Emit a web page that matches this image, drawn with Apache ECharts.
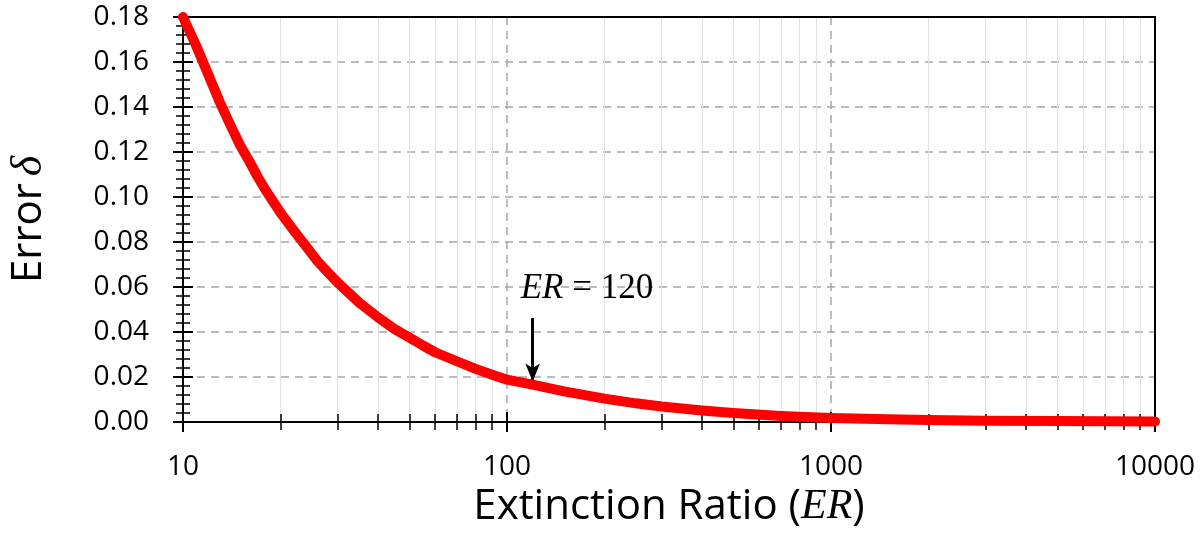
<!DOCTYPE html>
<html>
<head>
<meta charset="utf-8">
<script src="https://cdn.jsdelivr.net/npm/echarts@6/dist/echarts.min.js"></script>
<style>
  html, body { margin: 0; padding: 0; background: #fff; }
  #main { width: 1200px; height: 546px; }
</style>
</head>
<body>
<div id="main"></div>
<script>
// values
var erValues = [10, 11, 12, 13, 14, 15, 16, 17, 18, 20, 22, 24, 26, 28, 30, 35, 40, 45, 50, 55, 60, 70, 80, 90,
                100, 120, 150, 200, 250, 300, 400, 500, 700, 1000, 1500, 2000, 3000, 5000, 7000, 10000];
var errorValues = [0.180, 0.167, 0.154, 0.142, 0.132, 0.123, 0.116, 0.109, 0.103, 0.093, 0.085, 0.078,
                   0.0715, 0.0665, 0.062, 0.053, 0.0465, 0.0413, 0.0375, 0.0340, 0.0310, 0.0270, 0.0236,
                   0.0210, 0.0188, 0.0166, 0.0136, 0.0104, 0.0083, 0.0069, 0.0051, 0.0040, 0.0027,
                   0.0018, 0.0012, 0.0009, 0.0006, 0.0004, 0.0003, 0.0002];

// annotation: arrow pointing at ER = 120
var annotER = 120;
var arrowFrom = 0.0462;
var arrowTo = 0.0180;
var annotText = ' = 120';

var xMin = 10, xMax = 10000;
var yMin = 0, yMax = 0.18, yStep = 0.02;
var xMajorGrid = [100, 1000];   // dashed verticals (edges are the frame)
var yMajorGrid = [0.02, 0.04, 0.06, 0.08, 0.10, 0.12, 0.14, 0.16];

// minor tick positions (2..9 of every decade, and fifths of the y step)
var minorX = [];
for (var d = 10; d < xMax; d *= 10) {
    for (var k = 2; k <= 9; k++) minorX.push(k * d);
}
var minorY = [];
for (var i = 0; i < 45; i++) {
    if (i % 5 !== 0) minorY.push(+(i * 0.004).toFixed(3));
}

var sans = 'Open Sans';
var serif = 'Liberation Serif';

var points = [];
for (var j = 0; j < erValues.length; j++) points.push([erValues[j], errorValues[j]]);

var gridRect = {left: 183, right: 45, top: 17, bottom: 124, containLabel: false, outerBoundsMode: 'none'};

function blankAxis(extra) {
    var a = {
        axisLine: {show: false},
        axisLabel: {show: false},
        splitLine: {show: false},
        axisTick: {show: false}
    };
    for (var key in extra) a[key] = extra[key];
    return a;
}

var frameLine = {show: true, lineStyle: {color: '#000', width: 2}};
var dashed = {show: true, lineStyle: {color: '#a6a6a6', type: [8, 6], width: 1.5}};

var chart = echarts.init(document.getElementById('main'));

var option = {
    animation: false,
    grid: [
        Object.assign({}, gridRect),
        Object.assign({}, gridRect),
        Object.assign({}, gridRect)
    ],
    xAxis: [
        {
            type: 'log', logBase: 10, gridIndex: 0, min: xMin, max: xMax, position: 'bottom',
            axisLine: frameLine,
            axisTick: {show: false, customValues: xMajorGrid},
            axisLabel: {
                margin: 31, fontSize: 28, color: '#000', fontFamily: sans,
                formatter: function (v) { return String(v); }
            },
            splitLine: dashed,
            name: '{t|Extinction Ratio (}{i|ER}{t|)}',
            nameLocation: 'middle',
            nameGap: 58,
            nameTextStyle: {
                rich: {
                    t: {fontSize: 42, fontFamily: sans, color: '#000'},
                    i: {fontSize: 42, fontFamily: serif, fontStyle: 'italic', color: '#000'}
                }
            }
        },
        blankAxis({
            type: 'log', logBase: 10, gridIndex: 1, min: xMin, max: xMax, position: 'bottom', offset: -10,
            axisTick: {show: true, length: 20, lineStyle: {color: '#000', width: 2}}
        }),
        blankAxis({
            type: 'log', logBase: 10, gridIndex: 2, min: xMin, max: xMax, position: 'bottom', offset: -8,
            axisTick: {show: true, length: 16, customValues: minorX, lineStyle: {color: '#000', width: 1.5}},
            splitLine: {show: true, lineStyle: {color: '#e2e2e2', width: 1}}
        }),
        blankAxis({
            type: 'log', logBase: 10, gridIndex: 1, min: xMin, max: xMax, position: 'top',
            axisLine: frameLine
        })
    ],
    yAxis: [
        {
            type: 'value', gridIndex: 0, min: yMin, max: yMax, interval: yStep,
            axisLine: frameLine,
            axisTick: {show: false, customValues: yMajorGrid},
            axisLabel: {
                margin: 34, fontSize: 28, color: '#000', fontFamily: sans,
                formatter: function (v) { return v.toFixed(2); }
            },
            splitLine: dashed,
            name: '{t|Error}  {i|δ}',
            nameLocation: 'middle',
            nameGap: 132,
            nameRotate: 90,
            nameTextStyle: {
                rich: {
                    t: {fontSize: 42, fontFamily: sans, color: '#000'},
                    i: {fontSize: 44, fontFamily: serif, fontStyle: 'italic', color: '#000'}
                }
            }
        },
        blankAxis({
            type: 'value', gridIndex: 1, min: yMin, max: yMax, interval: yStep, offset: -10,
            axisTick: {show: true, length: 20, lineStyle: {color: '#000', width: 2}}
        }),
        blankAxis({
            type: 'value', gridIndex: 2, min: yMin, max: yMax, interval: yStep, offset: -7,
            axisTick: {show: true, length: 14, customValues: minorY, lineStyle: {color: '#000', width: 1.5}}
        }),
        blankAxis({
            type: 'value', gridIndex: 2, min: yMin, max: yMax, interval: yStep, position: 'right',
            axisLine: frameLine
        })
    ],
    series: [{
        type: 'line',
        xAxisIndex: 0,
        yAxisIndex: 0,
        data: points,
        smooth: false,
        showSymbol: false,
        z: 5,
        lineStyle: {color: '#ff0000', width: 10, cap: 'round', join: 'round'},
        markLine: {
            silent: true,
            symbol: ['none', 'arrow'],
            symbolSize: [11, 18],
            label: {show: false},
            lineStyle: {color: '#000', width: 3, type: 'solid'},
            data: [[{coord: [annotER, arrowFrom]}, {coord: [annotER, arrowTo]}]]
        }
    }]
};
chart.setOption(option);

// "ER = 120" label sits just above the arrow
var arrowTop = chart.convertToPixel({xAxisIndex: 0, yAxisIndex: 0}, [annotER, arrowFrom]);
chart.setOption({
    graphic: [{
        type: 'text',
        x: arrowTop[0] - 12,
        y: arrowTop[1] - 12,
        z: 10,
        style: {
            text: '{i|ER}{n|' + annotText + '}',
            verticalAlign: 'bottom',
            align: 'left',
            rich: {
                i: {fontSize: 35, fontFamily: serif, fontStyle: 'italic', fill: '#000'},
                n: {fontSize: 35, fontFamily: serif, fill: '#000'}
            }
        }
    }]
});
</script>
</body>
</html>
